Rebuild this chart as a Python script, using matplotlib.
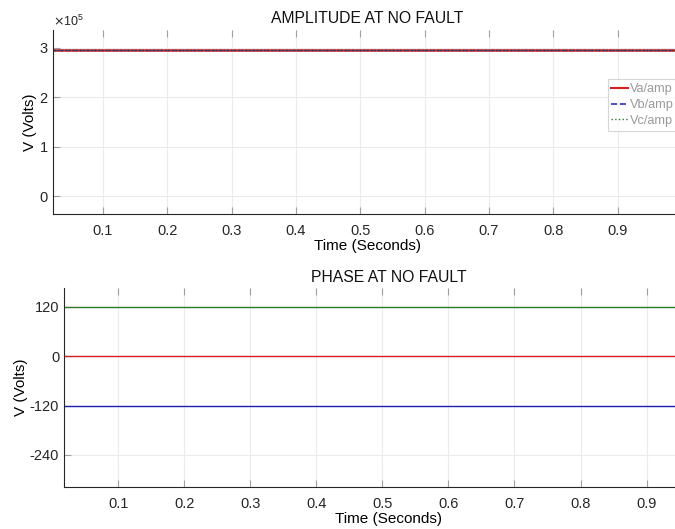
import matplotlib
matplotlib.use("Agg")
import matplotlib.pyplot as plt
from matplotlib.ticker import ScalarFormatter

plt.rcParams['font.family'] = ['Liberation Sans', 'DejaVu Sans']

# Data
t = [0.0, 1.0]
amp_va = [2.95e5, 2.95e5]
amp_vb = [2.95e5, 2.95e5]
amp_vc = [2.95e5, 2.95e5]
ph_va = [0.0, 0.0]
ph_vb = [-120.0, -120.0]
ph_vc = [120.0, 120.0]
amp_yticks = [0, 1e5, 2e5, 3e5]
ph_yticks = [-240, -120, 0, 120]
xticks = [0.1, 0.2, 0.3, 0.4, 0.5, 0.6, 0.7, 0.8, 0.9]

fig = plt.figure(figsize=(6.75, 5.29), dpi=100)

def style(ax):
    ax.grid(True, color='#ebebeb', linewidth=0.8)
    ax.set_axisbelow(True)
    for s in ['top', 'right']:
        ax.spines[s].set_visible(False)
    ax.spines['left'].set_color('#262626')
    ax.spines['bottom'].set_color('#262626')
    ax.tick_params(axis='both', direction='in', length=5, color='#a0a0a0',
                   labelsize=10.5, labelcolor='#262626', top=True)
    ax.tick_params(axis='x', pad=7)
    ax.set_xticks(xticks)
    ax.set_xticklabels([f"{v:.1f}" for v in xticks])

# Top: amplitude
ax1 = fig.add_axes([0.0785, 0.5955, 0.932, 0.348])
ax1.plot(t, amp_va, color='#d62020', linewidth=1.8, label='Va/amp')
ax1.plot(t, amp_vb, color='#3a3a9a', linewidth=0.9, linestyle='--', label='Vb/amp')
ax1.plot(t, amp_vc, color='#2a3a2a', linewidth=1.0, linestyle=':', label='Vc/amp')
ax1.set_xlim(0.0224, 1.0)
ax1.set_ylim(-0.36e5, 3.36e5)
ax1.set_yticks(amp_yticks)
fmt = ScalarFormatter(useMathText=True)
fmt.set_powerlimits((0, 0))
ax1.yaxis.set_major_formatter(fmt)
ax1.yaxis.get_offset_text().set_color('#555555')
ax1.yaxis.get_offset_text().set_fontsize(9)
style(ax1)
ax1.set_title('AMPLITUDE AT NO FAULT', fontsize=11.3, color='#111111', pad=5)
ax1.set_xlabel('Time (Seconds)', fontsize=11, labelpad=1)
ax1.set_ylabel('V (Volts)', fontsize=11, labelpad=1)
leg = ax1.legend(loc='upper left', bbox_to_anchor=(0.9, 0.85),
                 bbox_transform=fig.transFigure, fontsize=9.2,
                 handlelength=1.3, handletextpad=0.15, borderpad=0.3,
                 labelspacing=0.3, frameon=True, fancybox=False,
                 borderaxespad=0)
leg.get_frame().set_edgecolor('#cccccc')
leg.get_frame().set_linewidth(0.8)
leg_colors = ['#d62020', '#3030c0', '#2a7a2a']
leg_widths = [1.5, 1.2, 1.0]
for h, c, w in zip(leg.get_lines(), leg_colors, leg_widths):
    h.set_color(c)
    h.set_linewidth(w)
for txt in leg.get_texts():
    txt.set_color('#9a9a9a')

# Bottom: phase
ax2 = fig.add_axes([0.0948, 0.0794, 0.961, 0.3762])
ax2.plot(t, ph_vc, color='#2a7a2a', linewidth=1.0)
ax2.plot(t, ph_va, color='#d62020', linewidth=1.0)
ax2.plot(t, ph_vb, color='#2020b0', linewidth=1.0)
ax2.set_xlim(0.018, 1.0)
ax2.set_ylim(-318, 166)
ax2.set_yticks(ph_yticks)
ax2.set_yticklabels([str(v) for v in ph_yticks])
style(ax2)
ax2.set_title('PHASE AT NO FAULT', fontsize=11.3, color='#111111', pad=4)
ax2.set_xlabel('Time (Seconds)', fontsize=11, labelpad=1)
ax2.set_ylabel('V (Volts)', fontsize=11, labelpad=1)

fig.savefig('out.png', dpi=100)
